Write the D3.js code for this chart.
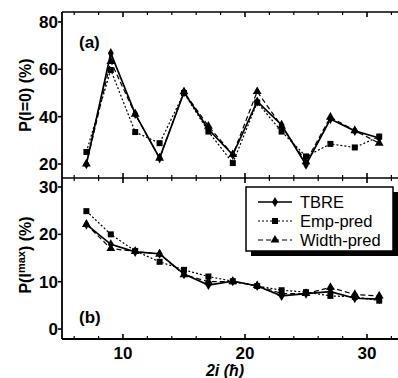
<!DOCTYPE html>
<html><head><meta charset="utf-8">
<script src="https://cdn.jsdelivr.net/npm/d3@7"></script>
<style>body{margin:0;background:#fff;overflow:hidden}svg{display:block}</style>
</head><body>
<svg id="c" width="398" height="378"></svg>
<script>
const spins = [7, 9, 11, 13, 15, 17, 19, 21, 23, 25, 27, 29, 31];
// Panel (a): P(I=0) (%)
const aTBRE  = [20, 66.8, 41.2, 22.5, 50.3, 34.7, 23.9, 46.4, 36.5, 19.7, 39, 34, 31];
const aEmp   = [25.1, 59.7, 33.5, 28.8, 50, 33.7, 20.4, 46, 33.7, 23.2, 28.5, 27, 31.6];
const aWidth = [20, 63.3, 41, 22.5, 50.5, 36, 24, 50.6, 36, 21, 39.8, 34.1, 28.8];
// Panel (b): P(I^max) (%)
const bTBRE  = [22.1, 17.9, 16.3, 15.9, 11.6, 9.3, 10.1, 9.1, 7.0, 7.5, 7.9, 6.5, 6.3];
const bEmp   = [24.9, 20.0, 16.5, 14.2, 12.5, 11.1, 10.1, 9.1, 8.2, 7.8, 7.0, 6.8, 6.0];
const bWidth = [22.1, 17.0, 16.4, 15.8, 11.5, 10.0, 10.0, 9.2, 7.5, 7.5, 8.8, 7.3, 7.0];
const aTicks = [20, 40, 60, 80];
const bTicks = [0, 10, 20, 30];
const xMajor = [10, 20, 30];
const legendLabels = ["TBRE", "Emp-pred", "Width-pred"];

const svg = d3.select("#c");
const font = "'Liberation Sans', Arial, sans-serif";
const L = 62, R = 403.6, aTop = 12, mid = 178, bBot = 339;
const x = d3.scaleLinear().domain([5, 33]).range([L, R]);
const ya = d3.scaleLinear().domain([14.1, 84.2]).range([mid, aTop]);
const yb = d3.scaleLinear().domain([-2.1, 31.9]).range([bBot, mid]);

const series = [
  {name: legendLabels[0], sym: d3.symbolDiamond, dash: null, w: 1.7, size: 30},
  {name: legendLabels[1], sym: d3.symbolSquare, dash: "2,2", w: 1.2, size: 36},
  {name: legendLabels[2], sym: d3.symbolTriangle, dash: "5,3", w: 1.2, size: 34}
];

const g = svg.append("g");
g.append("line").attr("x1", L).attr("x2", R).attr("y1", aTop).attr("y2", aTop).attr("stroke", "#000").attr("stroke-width", 1.6);
g.append("line").attr("x1", L).attr("x2", R).attr("y1", mid).attr("y2", mid).attr("stroke", "#000").attr("stroke-width", 1.6);
g.append("line").attr("x1", L).attr("x2", R).attr("y1", bBot).attr("y2", bBot).attr("stroke", "#000").attr("stroke-width", 1.8);
g.append("line").attr("x1", L).attr("x2", L).attr("y1", aTop).attr("y2", bBot).attr("stroke", "#000").attr("stroke-width", 1.8);

const xt = d3.range(6, 34, 2);
xt.forEach(v => {
  const major = xMajor.includes(v);
  const len = major ? 5 : 3;
  const px = x(v);
  g.append("line").attr("x1", px).attr("x2", px).attr("y1", aTop).attr("y2", aTop + len).attr("stroke", "#000").attr("stroke-width", major ? 1.6 : 1.2);
  g.append("line").attr("x1", px).attr("x2", px).attr("y1", mid - len).attr("y2", mid + len).attr("stroke", "#000").attr("stroke-width", major ? 1.6 : 1.2);
  g.append("line").attr("x1", px).attr("x2", px).attr("y1", bBot - len).attr("y2", bBot).attr("stroke", "#000").attr("stroke-width", major ? 1.6 : 1.2);
});
xMajor.forEach(v => {
  g.append("text").attr("x", x(v)).attr("y", 359).attr("text-anchor", "middle")
   .attr("font-family", font).attr("font-size", 17).attr("font-weight", "bold").text(v);
});

function yAxis(scale, ticks) {
  ticks.forEach(v => {
    const py = scale(v);
    g.append("line").attr("x1", L - 4).attr("x2", L).attr("y1", py).attr("y2", py).attr("stroke", "#000").attr("stroke-width", 1.6);
    g.append("text").attr("x", L - 4).attr("y", py + 6).attr("text-anchor", "end")
     .attr("font-family", font).attr("font-size", 17).attr("font-weight", "bold").text(v);
  });
}
yAxis(ya, aTicks);
yAxis(yb, bTicks);

g.append("text").attr("transform", `translate(31,${(aTop + mid) / 2}) rotate(-90)`).attr("text-anchor", "middle")
 .attr("font-family", font).attr("font-size", 16).attr("font-weight", "bold").text("P(I=0) (%)");
const tb = g.append("text").attr("transform", `translate(31,255) rotate(-90)`).attr("text-anchor", "middle")
 .attr("font-family", font).attr("font-size", 16).attr("font-weight", "bold");
tb.append("tspan").text("P(I");
tb.append("tspan").attr("font-size", 11).attr("dy", -6).text("max");
tb.append("tspan").attr("dy", 6).text(") (%)");

const xl = g.append("text").attr("x", 225).attr("y", 376).attr("text-anchor", "middle")
 .attr("font-family", font).attr("font-size", 16).attr("font-weight", "bold");
xl.append("tspan").attr("font-style", "italic").text("2i ");
xl.append("tspan").attr("font-style", "italic").text("(ħ)");

g.append("text").attr("x", 79).attr("y", 48).attr("font-family", font).attr("font-size", 17).attr("font-weight", "bold").text("(a)");
g.append("text").attr("x", 79).attr("y", 323).attr("font-family", font).attr("font-size", 17).attr("font-weight", "bold").text("(b)");

function draw(scale, data) {
  const order = [1, 2, 0];
  order.forEach(i => {
    const s = series[i];
    const vals = data[i];
    const line = d3.line().x((d, j) => x(spins[j])).y(d => scale(d));
    g.append("path").attr("d", line(vals)).attr("fill", "none").attr("stroke", "#000")
     .attr("stroke-width", s.w).attr("stroke-dasharray", s.dash);
    const sym = d3.symbol().type(s.sym).size(s.size);
    vals.forEach((v, j) => {
      g.append("path").attr("d", sym()).attr("transform", `translate(${x(spins[j])},${scale(v)})`).attr("fill", "#000");
    });
  });
}
draw(ya, [aTBRE, aEmp, aWidth]);
draw(yb, [bTBRE, bEmp, bWidth]);

const lx = 246, ly = 187, lw = 147, lh = 64;
g.append("rect").attr("x", lx + 5).attr("y", ly + 5).attr("width", lw).attr("height", lh).attr("fill", "#000");
g.append("rect").attr("x", lx).attr("y", ly).attr("width", lw).attr("height", lh).attr("fill", "#fff").attr("stroke", "#000").attr("stroke-width", 1.5);
series.forEach((s, i) => {
  const yy = 202 + i * 19;
  g.append("line").attr("x1", 258).attr("x2", 292).attr("y1", yy).attr("y2", yy).attr("stroke", "#000")
   .attr("stroke-width", s.w).attr("stroke-dasharray", s.dash);
  g.append("path").attr("d", d3.symbol().type(s.sym).size(s.size)()).attr("transform", `translate(275,${yy})`).attr("fill", "#000");
  g.append("text").attr("x", 300).attr("y", yy + 6).attr("font-family", font).attr("font-size", 16.5).text(s.name);
});
</script>
</body></html>
